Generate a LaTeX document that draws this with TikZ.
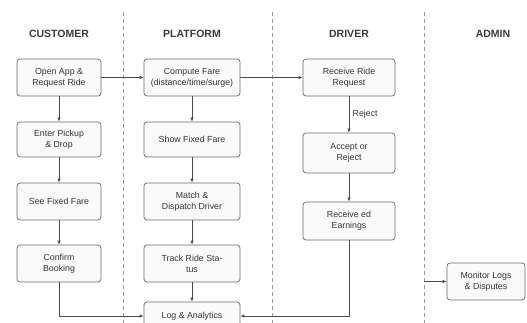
\documentclass[tikz,border=0pt]{standalone}
\usepackage{fontspec}
\setmainfont{Liberation Sans}
\usetikzlibrary{arrows.meta}

\definecolor{boxline}{HTML}{6A6A6A}
\definecolor{boxfill}{HTML}{FAFAFA}
\definecolor{flowline}{HTML}{4A4A4A}
\definecolor{laneline}{HTML}{9A9A9A}
\definecolor{headtext}{HTML}{3A3A3A}

\begin{document}
\begin{tikzpicture}[x=1pt,y=-1pt,
  box/.style={draw=boxline,fill=boxfill,rounded corners=3pt,line width=0.7pt,
    align=center,minimum height=37pt,inner sep=2pt,text=black!80,
    font=\fontsize{8.8}{11}\selectfont},
  flow/.style={draw=flowline,line width=0.7pt,-{Latex[length=4pt,width=3.5pt]}},
  lane/.style={draw=laneline,line width=0.8pt,dash pattern=on 4pt off 3pt},
  head/.style={text=headtext,font=\fontsize{10.5}{12}\selectfont\bfseries}]
	\useasboundingbox (0,0) rectangle (527,323);
	
	% Draw the lane dividers
	\foreach \x in {123,272,424}
		\draw[lane] (\x,12) -- (\x,323);
	
	% Define the lane headings
	\node[head] (hcust) at (59,34) {CUSTOMER};
	\node[head] (hplat) at (192,34) {PLATFORM};
	\node[head] (hdriv) at (349,34) {DRIVER};
	\node[head] (hadmn) at (493,34) {ADMIN};
	
	% Define the customer steps
	\node[box,minimum width=84pt] (open) at (59,77.5) {Open App \&\\Request Ride};
	\node[box,minimum width=84pt,minimum height=35pt] (pickup) at (59,139.5) {Enter Pickup\\\& Drop};
	\node[box,minimum width=84pt] (seefare) at (59,201.5) {See Fixed Fare};
	\node[box,minimum width=84pt] (confirm) at (59,263.5) {Confirm\\Booking};
	
	% Define the platform steps
	\node[box,minimum width=96pt] (compute) at (192,77.5) {Compute Fare\\(distance/time/surge)};
	\node[box,minimum width=96pt,minimum height=35pt] (showfare) at (192,139.5) {Show Fixed Fare};
	\node[box,minimum width=96pt] (match) at (192,201.5) {Match \&\\Dispatch Driver};
	\node[box,minimum width=96pt] (track) at (192,263.5) {Track Ride Sta-\\tus};
	\node[box,minimum width=96pt,minimum height=28pt] (logs) at (192,316) {Log \& Analytics};
	
	% Define the driver steps
	\node[box,minimum width=92pt] (receive) at (349,77.5) {Receive Ride\\Request};
	\node[box,minimum width=92pt,minimum height=40pt] (accept) at (349,153) {Accept or\\Reject};
	\node[box,minimum width=92pt,minimum height=38pt] (earnings) at (349,221) {Receive ed\\Earnings};
	
	% Define the admin step
	\node[box,minimum width=78pt] (monitor) at (486,281.5) {Monitor Logs\\\& Disputes};
	\coordinate (adminin) at (424,281.5);
	
	% Draw the flow between the steps
	\draw[flow] (open) -- (compute);
	\draw[flow] (compute) -- (receive);
	\draw[flow] (open) -- (pickup);
	\draw[flow] (pickup) -- (seefare);
	\draw[flow] (seefare) -- (confirm);
	\draw[flow] (compute) -- (showfare);
	\draw[flow] (showfare) -- (match);
	\draw[flow] (match) -- (track);
	\draw[flow] (track) -- (logs);
	\draw[flow] (receive) -- node[right,text=black!80,font=\fontsize{8.8}{11}\selectfont] {Reject} (accept);
	\draw[flow] (accept) -- (earnings);
	\draw[flow] (confirm.south) |- (logs.west);
	\draw[flow] (earnings.south) |- (logs.east);
	\draw[flow] (adminin) -- (monitor.west);
\end{tikzpicture}
\end{document}
